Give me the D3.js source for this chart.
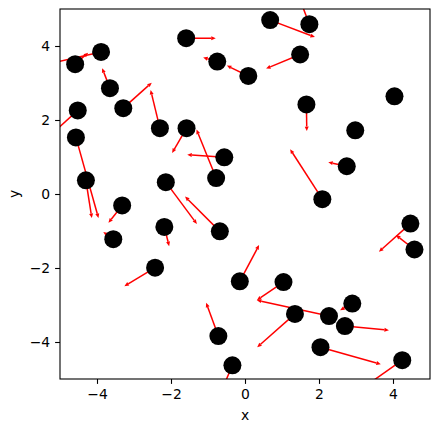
<!DOCTYPE html>
<html>
<head>
<meta charset="utf-8">
<script src="https://cdn.jsdelivr.net/npm/d3@7"></script>
<style>
  body { margin: 0; background: #fff; }
  svg text { font-family: "DejaVu Sans", sans-serif; font-size: 13.9px; fill: #000; }
</style>
</head>
<body>
<svg id="chart" width="439" height="432"></svg>
<script>
// point positions
const xs = [-4.59, -3.89, -3.65, -3.29, -2.30, -4.52, -4.57, -4.30, -3.32, -3.56,
  -2.14, -2.18, -1.59, -0.75, 0.09, 0.68, 1.74, 1.49, 1.66, 4.04,
  2.98, 2.75, 2.09, -1.58, -0.56, -0.78, -0.68, -0.14, 1.04, 1.35,
  -0.72, -0.34, -2.43, 4.47, 4.58, 2.90, 2.27, 2.70, 2.04, 4.25];
const ys = [3.51, 3.84, 2.86, 2.32, 1.78, 2.26, 1.53, 0.37, -0.31, -1.22,
  0.32, -0.89, 4.21, 3.58, 3.19, 4.70, 4.59, 3.77, 2.42, 2.64,
  1.72, 0.75, -0.14, 1.78, 0.99, 0.43, -1.01, -2.36, -2.38, -3.24,
  -3.84, -4.63, -1.99, -0.80, -1.50, -2.96, -3.30, -3.57, -4.14, -4.49];
// arrow vectors
const us = [0.35, -1.40, -0.21, 0.77, -0.25, -0.62, 0.61, 0.16, -0.37, -0.27,
  0.84, 0.13, 0.80, -0.38, -0.58, 1.21, -0.25, -0.92, 0.01, 0.05,
  -0.05, -0.50, -0.87, -0.39, -1.00, -0.53, -0.94, 0.52, -0.72, -1.02,
  -0.33, -0.30, -0.83, -0.85, -0.50, -0.33, -1.95, 1.19, 1.63, -0.95];
const vs = [0.31, -0.32, 0.54, 0.69, 1.03, -0.56, -2.18, -1.02, -0.47, 0.19,
  -1.13, -0.52, 0.00, 0.11, 0.28, -0.46, 0.65, -0.38, -0.72, 0.05,
  0.03, 0.11, 1.35, -0.67, 0.07, 1.31, 0.94, 0.98, -0.49, -0.90,
  0.90, -0.70, -0.50, -0.76, 0.39, -0.18, 0.43, -0.11, -0.46, -0.67];
const tickValues = [-4, -2, 0, 2, 4];

const margin = {left: 60, top: 9, right: 9, bottom: 53};
const width = 370, height = 370;

const svg = d3.select("#chart");
const g = svg.append("g").attr("transform", `translate(${margin.left},${margin.top})`);

const x = d3.scaleLinear().domain([-5, 5]).range([0, width]);
const y = d3.scaleLinear().domain([-5, 5]).range([height, 0]);

svg.append("defs").append("clipPath").attr("id", "clip")
  .append("rect").attr("width", width).attr("height", height);

const plot = g.append("g").attr("clip-path", "url(#clip)");

const data = xs.map((d, i) => ({x: d, y: ys[i], u: us[i], v: vs[i]}));

// arrows go under the markers
const headLen = 4.5, headW = 2;
data.forEach(d => {
  const x1 = x(d.x), y1 = y(d.y);
  const x2 = x(d.x + d.u), y2 = y(d.y + d.v);
  const ang = Math.atan2(y2 - y1, x2 - x1);
  const bx = x2 - headLen * Math.cos(ang), by = y2 - headLen * Math.sin(ang);
  plot.append("line")
    .attr("x1", x1).attr("y1", y1).attr("x2", bx).attr("y2", by)
    .attr("stroke", "red").attr("stroke-width", 1.5);
  const px = -Math.sin(ang) * headW, py = Math.cos(ang) * headW;
  plot.append("path")
    .attr("d", `M${x2},${y2}L${bx + px},${by + py}L${bx - px},${by - py}Z`)
    .attr("fill", "red");
});

plot.selectAll("circle").data(data).join("circle")
  .attr("cx", d => x(d.x))
  .attr("cy", d => y(d.y))
  .attr("r", 9)
  .attr("fill", "#000");

// axes
const xAxis = g.append("g").attr("transform", `translate(0,${height})`)
  .call(d3.axisBottom(x).tickValues(tickValues).tickSize(4.9).tickPadding(4.9)
    .tickFormat(d => d < 0 ? "\u2212" + Math.abs(d) : d));
const yAxis = g.append("g")
  .call(d3.axisLeft(y).tickValues(tickValues).tickSize(4.9).tickPadding(4.9)
    .tickFormat(d => d < 0 ? "\u2212" + Math.abs(d) : d));
[xAxis, yAxis].forEach(a => {
  a.select(".domain").remove();
  a.selectAll("line").attr("stroke", "#000").attr("stroke-width", 1.1);
  a.selectAll("text").attr("font-family", null).attr("font-size", null);
});

g.append("rect").attr("width", width).attr("height", height)
  .attr("fill", "none").attr("stroke", "#000").attr("stroke-width", 1.1);

svg.append("text").attr("x", margin.left + width / 2).attr("y", 420)
  .attr("text-anchor", "middle").text("x");
svg.append("text")
  .attr("transform", `translate(19,${margin.top + height / 2}) rotate(-90)`)
  .attr("text-anchor", "middle").text("y");
</script>
</body>
</html>
